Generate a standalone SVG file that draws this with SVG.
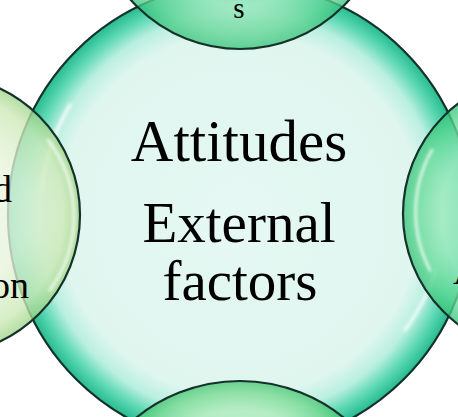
<svg xmlns="http://www.w3.org/2000/svg" width="458" height="417" viewBox="0 0 458 417">
<defs>
<style>
.ol{stroke:#16302a;stroke-width:2.2}
.sat{fill-opacity:0.78}
.hl{fill:none;stroke:#ffffff;stroke-linecap:round;filter:url(#blur)}
.txt{font-family:"Liberation Serif","Times New Roman",serif;fill:#000}
</style>
<filter id="blur" x="-20%" y="-20%" width="140%" height="140%"><feGaussianBlur stdDeviation="1.6"/></filter>
<radialGradient id="gCenter" cx="0.5" cy="0.5" r="0.5">
<stop offset="0" stop-color="#e6f8f3"/>
<stop offset="0.78" stop-color="#dff6ef"/>
<stop offset="0.87" stop-color="#b9efdf"/>
<stop offset="0.94" stop-color="#5cd8b3"/>
<stop offset="1" stop-color="#26bb90"/>
</radialGradient>
<radialGradient id="gTop" cx="0.5" cy="0.5" r="0.5">
<stop offset="0" stop-color="#c8f2da"/>
<stop offset="0.7" stop-color="#a4eac2"/>
<stop offset="0.9" stop-color="#62d596"/>
<stop offset="1" stop-color="#3ac47c"/>
</radialGradient>
<radialGradient id="gBottom" cx="0.5" cy="0.5" r="0.5">
<stop offset="0" stop-color="#d2f2d6"/>
<stop offset="0.82" stop-color="#b4ecbe"/>
<stop offset="0.93" stop-color="#78da92"/>
<stop offset="1" stop-color="#48c672"/>
</radialGradient>
<radialGradient id="gRight" cx="0.5" cy="0.5" r="0.5">
<stop offset="0" stop-color="#c8f2d8"/>
<stop offset="0.72" stop-color="#a0eabe"/>
<stop offset="0.9" stop-color="#5ed894"/>
<stop offset="1" stop-color="#38c47a"/>
</radialGradient>
<radialGradient id="gLeft" cx="0.5" cy="0.5" r="0.5">
<stop offset="0" stop-color="#f2f9ec"/>
<stop offset="0.6" stop-color="#e6f3da"/>
<stop offset="0.88" stop-color="#cce9b6"/>
<stop offset="1" stop-color="#9fd488"/>
</radialGradient>
</defs>
<rect width="458" height="417" fill="#ffffff"/>
<g id="connectors"/>
<g id="node-center">
<circle cx="240" cy="215" r="232" fill="url(#gCenter)" class="ol"/>
<path class="hl" d="M 70 105 A 205 205 0 0 0 42 190" stroke-width="3.5" stroke-opacity="0.7"/>
<path class="hl" d="M 436 270 A 205 205 0 0 1 405 330" stroke-width="3.5" stroke-opacity="0.7"/>
<text class="txt" x="239" y="161" font-size="59" text-anchor="middle">Attitudes</text>
<text class="txt" x="239" y="242" font-size="57" text-anchor="middle">External</text>
<text class="txt" x="240" y="300" font-size="57" text-anchor="middle">factors</text>
</g>
<g id="node-top">
<circle cx="240" cy="-97" r="146" fill="url(#gTop)" class="ol sat"/>
<text class="txt" x="239" y="18" font-size="29" text-anchor="middle">s</text>
</g>
<g id="node-left">
<circle cx="-60" cy="215" r="140" fill="url(#gLeft)" class="ol sat"/>
<path class="hl" d="M 48 140 A 125 125 0 0 1 50 290" stroke-width="3" stroke-opacity="0.7"/>
<text class="txt" x="12" y="202" font-size="38" text-anchor="end">d</text>
<text class="txt" x="29" y="298" font-size="38" text-anchor="end">on</text>
</g>
<g id="node-right">
<circle cx="541" cy="214" r="138" fill="url(#gRight)" class="ol sat"/>
<path class="hl" d="M 432 150 A 125 125 0 0 0 430 270" stroke-width="3" stroke-opacity="0.7"/>
<text class="txt" x="453" y="284" font-size="38">A</text>
</g>
<g id="node-bottom">
<circle cx="240" cy="546" r="165" fill="url(#gBottom)" class="ol sat"/>
</g>
</svg>
